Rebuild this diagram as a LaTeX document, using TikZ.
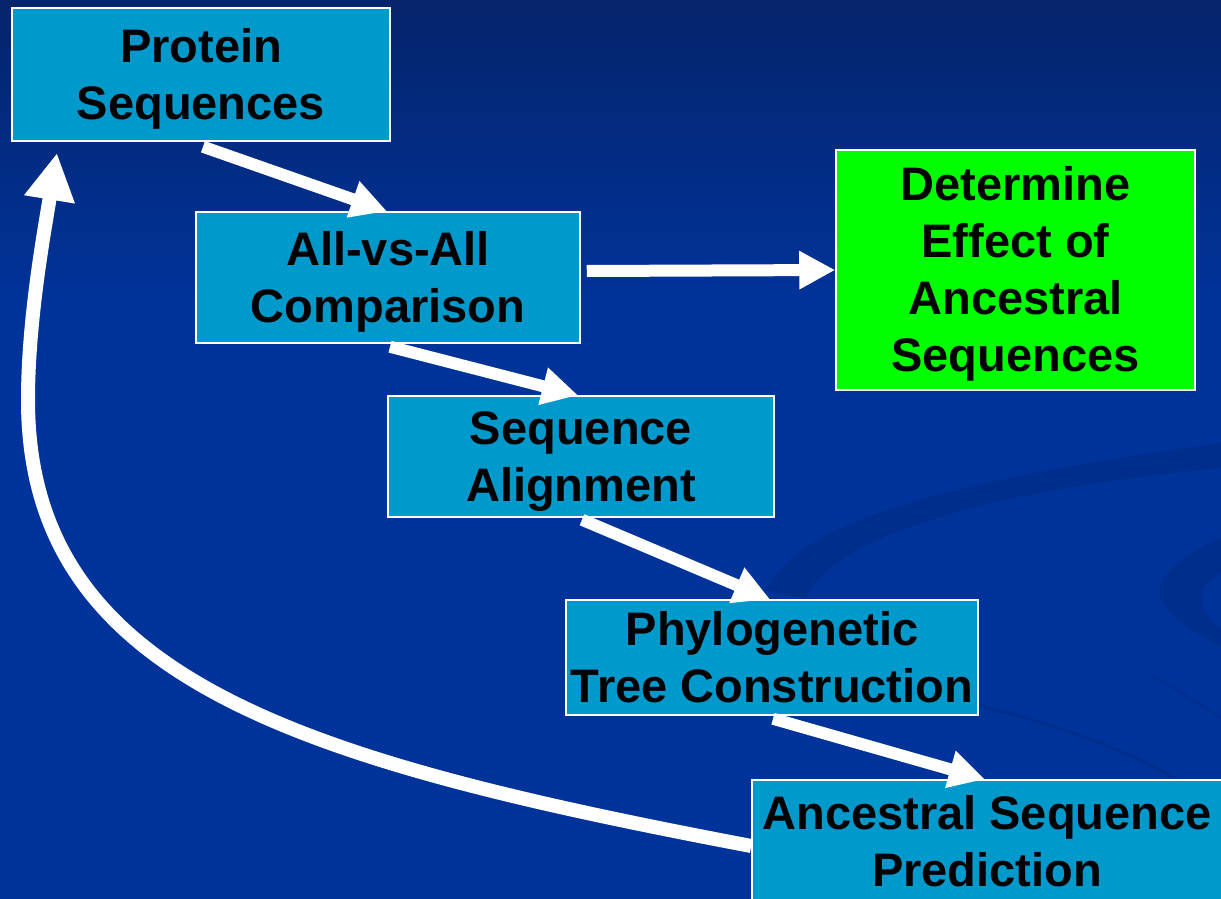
\documentclass[tikz,border=0pt]{standalone}
\usepackage{fontspec}
\setmainfont{Liberation Sans}
\usetikzlibrary{arrows.meta,calc}
\definecolor{bgtop}{HTML}{05246B}
\definecolor{bgmain}{HTML}{003399}
\definecolor{bgdark}{HTML}{002E8C}
\definecolor{boxblue}{HTML}{0099CC}
\definecolor{boxgreen}{HTML}{00FF00}
\newcommand\lst{\rule[-10pt]{0pt}{52.5pt}}
\tikzset{
  box/.style={draw=white, line width=1.5pt, fill=boxblue, inner sep=0pt,
    align=center, text=black, font=\bfseries\fontsize{47}{57}\selectfont},
  greenbox/.style={box, fill=boxgreen},
  flow/.style={draw=white, line width=12pt, -{Triangle[length=36pt,width=36pt]}},
  loopflow/.style={draw=white, line width=14pt, -{Triangle[length=47pt,width=48pt]}}
}
\begin{document}
\begin{tikzpicture}[x=1pt,y=-1pt]
\useasboundingbox (0,0) rectangle (1221,899);
\clip (0,0) rectangle (1221,899);
% background
\fill[bgmain] (0,0) rectangle (1221,899);
\shade[top color=bgtop, bottom color=bgmain] (0,0) rectangle (1221,300);
% faint swooshes
\fill[bgdark] (766,590) .. controls (800,520) and (950,480) .. (1221,443)
  -- (1221,468) .. controls (1010,488) and (840,530) .. (805,598) -- cycle;
\fill[bgdark] (1221,538) .. controls (1185,552) and (1150,578) .. (1162,602)
  .. controls (1172,620) and (1200,636) .. (1221,646) -- (1221,628)
  .. controls (1205,618) and (1196,600) .. (1206,585)
  .. controls (1211,578) and (1216,576) .. (1221,574) -- cycle;
\draw[bgdark, line width=3pt] (978,705) .. controls (1060,725) and (1140,755) .. (1180,782);
\draw[bgdark, line width=2pt] (1150,675) .. controls (1180,690) and (1200,705) .. (1221,718);
% boxes
\node[box, minimum width=378pt, minimum height=133pt] (prot) at (201,74.5)
  {\lst Protein\\\lst Sequences};
\node[box, minimum width=384pt, minimum height=131pt] (allv) at (388,277.5)
  {\lst All-vs-All\\\lst Comparison};
\node[greenbox, minimum width=359pt, minimum height=240pt] (effect) at (1015.5,270)
  {\lst Determine\\\lst Effect of\\\lst Ancestral\\\lst Sequences};
\node[box, minimum width=386pt, minimum height=121pt] (align) at (581,456.5)
  {\lst Sequence\\\lst Alignment};
\node[box, minimum width=412pt, minimum height=115pt] (phylo) at (772,657.5)
  {\lst Phylogenetic\\\lst Tree Construction};
\node[box, minimum width=470pt, minimum height=123pt] (anc) at (987,841.5)
  {\lst Ancestral Sequence\\\lst Prediction};
% connectors
\draw[flow] ($(prot.south)+(2,5)$) -- ($(allv.north)+(-1,0)$);
\draw[flow] ($(allv.east)+(6,-6.5)$) -- (effect.west);
\draw[flow] ($(allv.south)+(2,3)$) -- ($(align.north)+(-3,0)$);
\draw[flow] ($(align.south)+(1,2)$) -- ($(phylo.north)+(-2,0)$);
\draw[flow] ($(phylo.south)+(1,3)$) -- ($(anc.north)+(-2,0)$);
\coordinate (loopstart) at ($(anc.west)+(0,4.5)$);
\coordinate (loopmid) at (28,400);
\coordinate (looptip) at (57,153);
\draw[loopflow] (loopstart) .. controls (301,760.5) and (28,680) .. (loopmid)
  .. controls (28,320) and (44,233) .. (looptip);
\end{tikzpicture}
\end{document}
